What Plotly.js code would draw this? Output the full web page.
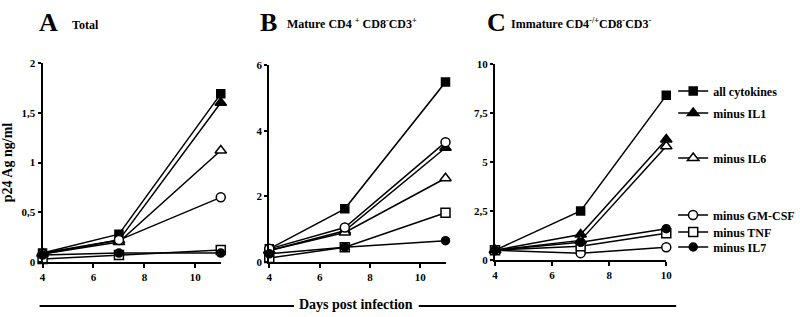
<!DOCTYPE html>
<html><head><meta charset="utf-8">
<script src="https://cdn.plot.ly/plotly-3.0.1.min.js"></script>
<style>body{margin:0;background:#fff}#c{width:800px;height:317px}</style>
</head><body><div id="c"></div>
<script>
// ---- data ----
const seriesNames = ["all cytokines", "minus IL1", "minus IL6", "minus GM-CSF", "minus TNF", "minus IL7"];
const daysAB = [4, 7, 11];
const daysC = [4, 7, 10];
// Panel A: Total
const totalAll   = [0.09, 0.28, 1.69];
const totalIL1   = [0.09, 0.22, 1.60];
const totalIL6   = [0.08, 0.20, 1.12];
const totalGMCSF = [0.08, 0.22, 0.65];
const totalTNF   = [0.03, 0.07, 0.12];
const totalIL7   = [0.07, 0.09, 0.09];
// Panel B: Mature CD4+CD8-CD3+
const matAll   = [0.40, 1.62, 5.48];
const matIL1   = [0.35, 0.95, 3.48];
const matIL6   = [0.35, 0.90, 2.55];
const matGMCSF = [0.40, 1.05, 3.65];
const matTNF   = [0.12, 0.45, 1.50];
const matIL7   = [0.25, 0.45, 0.65];
// Panel C: Immature CD4-/+CD8-CD3-
const immAll   = [0.50, 2.50, 8.40];
const immIL1   = [0.50, 1.30, 6.15];
const immIL6   = [0.50, 1.00, 5.80];
const immGMCSF = [0.50, 0.35, 0.65];
const immTNF   = [0.50, 0.70, 1.36];
const immIL7   = [0.50, 0.90, 1.60];
// ticks
const xTicks = [4, 6, 8, 10];
const yTicksA = [0, 0.5, 1, 1.5, 2];
const yLabelsA = ["0", "0,5", "1", "1,5", "2"];
const yTicksB = [0, 2, 4, 6];
const yLabelsB = ["0", "2", "4", "6"];
const yTicksC = [0, 2.5, 5, 7.5, 10];
const yLabelsC = ["0", "2,5", "5", "7,5", "10"];

// ---- styles ----
const symbols = ["square", "triangle-up", "triangle-up-open", "circle-open", "square-open", "circle"];
const sizes = [8, 10, 10, 9, 9, 8];
const legendIds = ["legend", "legend2", "legend3", "legend4", "legend5", "legend6"];
const legendY = [91, 113, 158, 215, 232, 247];
const SERIF = "Liberation Serif, Times New Roman, serif";

const panels = [
  {x: daysAB, ys: [totalAll, totalIL1, totalIL6, totalGMCSF, totalTNF, totalIL7], xa: "x", ya: "y"},
  {x: daysAB, ys: [matAll, matIL1, matIL6, matGMCSF, matTNF, matIL7], xa: "x2", ya: "y2"},
  {x: daysC,  ys: [immAll, immIL1, immIL6, immGMCSF, immTNF, immIL7], xa: "x3", ya: "y3"}
];

const traces = [];
panels.forEach((p, pi) => {
  p.ys.forEach((y, si) => {
    const open = symbols[si].endsWith("-open");
    traces.push({
      type: "scatter", mode: "lines+markers",
      x: p.x, y: y, xaxis: p.xa, yaxis: p.ya,
      name: seriesNames[si],
      legend: legendIds[si],
      showlegend: pi === 0,
      cliponaxis: false,
      line: {color: "#000", width: 1.5},
      marker: {symbol: symbols[si].replace("-open", ""), size: sizes[si], color: open ? "#fff" : "#000",
               line: {color: "#000", width: 1.5}},
      hoverinfo: "skip"
    });
  });
});

const W = 800, H = 317;
const fx = px => px / W;
const fy = py => (H - py) / H;

function xaxis(l, r, range) {
  return {domain: [fx(l), fx(r)], range: range, tickvals: xTicks, ticks: "outside",
    ticklen: 4, tickwidth: 2, tickcolor: "#000", showline: true, linewidth: 2, linecolor: "#000",
    showgrid: false, zeroline: false, fixedrange: true,
    tickfont: {family: SERIF, size: 11, color: "#000", weight: "bold"}};
}
function yaxis(b, t, range, vals, labels, anchor) {
  return {domain: [fy(b), fy(t)], range: range, tickvals: vals, ticktext: labels, ticks: "outside",
    ticklen: 3, tickwidth: 2, tickcolor: "#000", showline: true, linewidth: 2, linecolor: "#000",
    showgrid: false, zeroline: false, fixedrange: true, anchor: anchor,
    tickfont: {family: SERIF, size: 11, color: "#000", weight: "bold"}};
}

const legendBase = (py) => ({x: fx(680), xanchor: "left", y: fy(py), yanchor: "middle",
  bgcolor: "rgba(0,0,0,0)", borderwidth: 0, itemwidth: 30, tracegroupgap: 0,
  font: {family: SERIF, size: 12, color: "#000", weight: "bold"}});

const layout = {
  width: W, height: H, margin: {l: 0, r: 0, t: 0, b: 0},
  paper_bgcolor: "#fff", plot_bgcolor: "rgba(0,0,0,0)",
  xaxis: Object.assign(xaxis(43, 223, [4, 11]), {anchor: "y"}),
  yaxis: Object.assign(yaxis(262, 63, [0, 2], yTicksA, yLabelsA, "x"), {
    title: {text: "p24 Ag ng/ml", font: {family: SERIF, size: 14, color: "#000", weight: "bold"}, standoff: 6}}),
  xaxis2: Object.assign(xaxis(272, 450, [4, 11]), {anchor: "y2"}),
  yaxis2: yaxis(262, 65, [0, 6], yTicksB, yLabelsB, "x2"),
  xaxis3: Object.assign(xaxis(500, 673, [4, 10]), {anchor: "y3"}),
  yaxis3: yaxis(260, 64, [0, 10], yTicksC, yLabelsC, "x3"),
  annotations: [
    {text: "A", x: fx(37), y: fy(22), xref: "paper", yref: "paper", xanchor: "left", yanchor: "middle", showarrow: false,
     font: {family: SERIF, size: 26, color: "#000", weight: "bold"}},
    {text: "Total", x: fx(71), y: fy(25), xref: "paper", yref: "paper", xanchor: "left", yanchor: "middle", showarrow: false,
     font: {family: SERIF, size: 12, color: "#000", weight: "bold"}},
    {text: "B", x: fx(261), y: fy(22), xref: "paper", yref: "paper", xanchor: "left", yanchor: "middle", showarrow: false,
     font: {family: SERIF, size: 26, color: "#000", weight: "bold"}},
    {text: "Mature CD4 <sup>+</sup> CD8<sup>-</sup>CD3<sup>+</sup>", x: fx(288), y: fy(24), xref: "paper", yref: "paper", xanchor: "left", yanchor: "middle", showarrow: false,
     font: {family: SERIF, size: 12, color: "#000", weight: "bold"}},
    {text: "C", x: fx(490), y: fy(22), xref: "paper", yref: "paper", xanchor: "left", yanchor: "middle", showarrow: false,
     font: {family: SERIF, size: 26, color: "#000", weight: "bold"}},
    {text: "Immature CD4<sup>-/+</sup>CD8<sup>-</sup>CD3<sup>-</sup>", x: fx(514), y: fy(24), xref: "paper", yref: "paper", xanchor: "left", yanchor: "middle", showarrow: false,
     font: {family: SERIF, size: 12, color: "#000", weight: "bold"}},
    {text: "Days post infection", x: fx(360), y: fy(304), xref: "paper", yref: "paper", xanchor: "center", yanchor: "middle", showarrow: false,
     font: {family: SERIF, size: 14, color: "#000", weight: "bold"}}
  ],
  shapes: [
    {type: "line", xref: "paper", yref: "paper", x0: fx(40), x1: fx(297), y0: fy(306), y1: fy(306), line: {color: "#000", width: 2}},
    {type: "line", xref: "paper", yref: "paper", x0: fx(423), x1: fx(683), y0: fy(306), y1: fy(306), line: {color: "#000", width: 2}}
  ]
};
legendIds.forEach((id, i) => { layout[id] = legendBase(legendY[i]); });

Plotly.newPlot("c", traces, layout, {staticPlot: true, displayModeBar: false});
</script></body></html>
